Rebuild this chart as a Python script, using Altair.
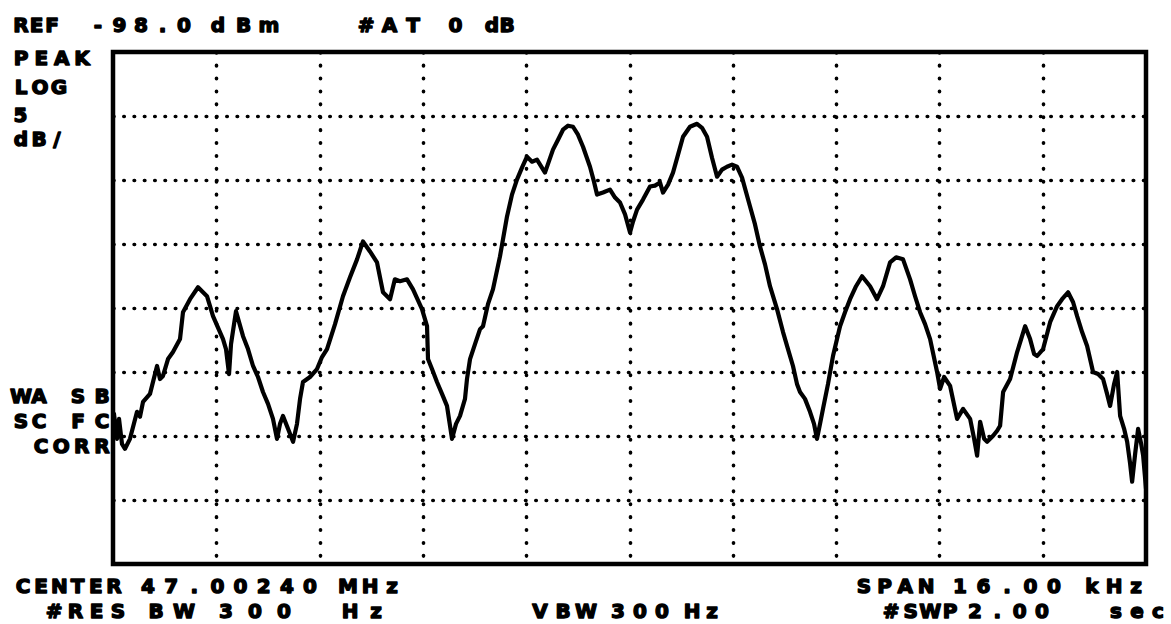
import altair as alt
import pandas as pd

# Swept spectrum trace: frequency offset from centre (kHz) and level (dBm)
freq_khz = [
    -7.985, -7.938, -7.907, -7.861, -7.814, -7.737, -7.628, -7.582, -7.535, -7.427,
    -7.318, -7.272, -7.226, -7.148, -7.071, -6.962, -6.916, -6.807, -6.683, -6.544,
    -6.451, -6.296, -6.250, -6.203, -6.172, -6.095, -5.986, -5.909, -5.831, -5.754,
    -5.677, -5.599, -5.522, -5.460, -5.413, -5.367, -5.289, -5.211, -5.150, -5.103,
    -5.057, -4.949, -4.840, -4.763, -4.685, -4.561, -4.438, -4.329, -4.220, -4.128,
    -4.020, -3.911, -3.818, -3.709, -3.634, -3.555, -3.446, -3.353, -3.214, -3.136,
    -3.121, -3.059, -2.982, -2.904, -2.827, -2.749, -2.687, -2.625, -2.548, -2.517,
    -2.470, -2.393, -2.315, -2.269, -2.192, -2.114, -2.006, -1.897, -1.820, -1.743,
    -1.665, -1.588, -1.510, -1.433, -1.309, -1.185, -1.107, -1.030, -0.952, -0.875,
    -0.798, -0.720, -0.612, -0.550, -0.503, -0.410, -0.302, -0.224, -0.147, -0.069,
    0.008, 0.055, 0.117, 0.209, 0.318, 0.395, 0.473, 0.519, 0.597, 0.674,
    0.752, 0.829, 0.937, 1.046, 1.123, 1.201, 1.278, 1.356, 1.433, 1.510,
    1.588, 1.665, 1.743, 1.867, 1.944, 2.021, 2.099, 2.176, 2.285, 2.378,
    2.455, 2.532, 2.594, 2.641, 2.718, 2.796, 2.858, 2.904, 2.951, 2.997,
    3.075, 3.152, 3.261, 3.338, 3.416, 3.509, 3.602, 3.664, 3.726, 3.834,
    3.927, 4.036, 4.129, 4.237, 4.346, 4.423, 4.501, 4.578, 4.656, 4.764,
    4.811, 4.873, 4.966, 5.074, 5.167, 5.276, 5.338, 5.384, 5.431, 5.493,
    5.539, 5.632, 5.694, 5.740, 5.787, 5.895, 6.004, 6.066, 6.128, 6.205,
    6.267, 6.314, 6.406, 6.515, 6.623, 6.700, 6.793, 6.871, 6.933, 7.010,
    7.088, 7.180, 7.258, 7.335, 7.397, 7.444, 7.506, 7.553, 7.599, 7.661,
    7.708, 7.754, 7.785, 7.832, 7.878, 7.925, 7.956, 8.000,
]
level_dbm = [
    -126.27, -128.22, -126.66, -128.61, -129.00, -128.22, -126.11, -126.50, -125.34, -124.71,
    -122.53, -123.55, -123.31, -121.99, -121.44, -120.43, -118.33, -117.31, -116.38, -117.08,
    -118.64, -120.43, -121.21, -123.16, -120.82, -118.25, -120.20, -121.21, -122.53, -123.39,
    -124.56, -125.49, -126.66, -128.22, -127.05, -126.43, -127.44, -128.45, -127.05, -125.10,
    -123.78, -123.39, -122.77, -121.83, -121.21, -119.26, -117.08, -115.60, -114.20, -112.80,
    -113.58, -114.43, -116.77, -117.31, -115.76, -115.91, -115.76, -116.54, -118.09, -119.42,
    -121.99, -122.77, -123.78, -124.71, -125.65, -128.22, -127.05, -126.43, -125.10, -123.55,
    -121.99, -120.82, -119.65, -119.42, -117.70, -116.53, -113.97, -110.85, -109.14, -107.97,
    -107.03, -106.18, -106.57, -106.41, -107.42, -105.63, -104.85, -104.07, -103.76, -103.84,
    -104.46, -105.40, -106.96, -108.13, -109.14, -108.98, -108.75, -109.37, -109.76, -110.69,
    -112.10, -111.24, -110.31, -109.53, -108.51, -108.44, -108.20, -108.98, -108.36, -107.42,
    -106.02, -104.62, -103.84, -103.61, -103.92, -104.62, -106.26, -107.74, -107.19, -106.96,
    -106.80, -106.96, -107.81, -110.07, -111.47, -113.19, -114.59, -116.30, -118.09, -119.88,
    -121.21, -122.53, -123.93, -124.56, -125.10, -126.11, -127.05, -128.22, -127.05, -125.88,
    -123.93, -121.75, -119.42, -118.33, -117.31, -116.30, -115.52, -115.91, -116.30, -117.31,
    -116.30, -114.43, -114.04, -114.20, -115.76, -117.08, -118.33, -119.26, -120.43, -123.00,
    -124.32, -123.39, -124.09, -126.66, -125.88, -126.66, -128.22, -129.54, -126.89, -128.22,
    -128.45, -127.98, -127.59, -127.20, -124.56, -123.55, -121.44, -120.43, -119.42, -120.43,
    -121.60, -121.75, -121.21, -119.11, -117.86, -117.31, -116.77, -117.55, -118.64, -119.88,
    -120.97, -123.00, -123.16, -123.55, -124.71, -125.65, -123.93, -123.00, -126.43, -127.44,
    -128.45, -130.16, -131.57, -129.39, -127.44, -128.61, -129.54, -132.11,
]

# Display settings: span 16 kHz (10 divisions), reference -98 dBm at 5 dB/div (8 divisions)
span_khz = 16.0
ref_level = -98.0
db_per_div = 5.0
x_divs, y_divs = 10, 8
x_min, x_max = -span_khz / 2, span_khz / 2
y_max, y_min = ref_level, ref_level - db_per_div * y_divs
x_grid = [x_min + i * span_khz / x_divs for i in range(1, x_divs)]
y_grid = [y_min + i * db_per_div for i in range(1, y_divs)]

# Annotation words printed by the analyser
words = [
    "REF", "-98.0", "dBm", "#AT", "0", "dB",
    "PEAK", "LOG", "5", "dB/",
    "WA", "SB", "SC", "FC", "CORR",
    "CENTER", "47.00240", "MHz", "SPAN", "16.00", "kHz",
    "#RES", "BW", "300", "Hz", "VBW", "300", "Hz", "#SWP", "2.00", "sec",
]
# Page layout of each word: left edge, right edge, vertical centre (pixels)
word_boxes = [
    (13, 60, 26), (90, 192, 26), (210, 277, 26), (358, 421, 26), (448, 463, 26), (484, 515, 26),
    (13, 90, 59), (13, 67, 88), (13, 28, 116), (13, 65, 140),
    (13, 47, 397), (70, 110, 397), (13, 47, 422), (70, 110, 422), (33, 110, 447),
    (15, 122, 587), (140, 318, 587), (340, 400, 587), (856, 934, 587), (952, 1062, 587), (1084, 1144, 587),
    (46, 126, 612), (148, 192, 612), (218, 292, 612), (342, 384, 612),
    (532, 594, 612), (610, 670, 612), (684, 720, 612), (883, 958, 612), (967, 1050, 612), (1108, 1166, 612),
]

W, H = 1171, 624
PLOT_L, PLOT_T, PLOT_W, PLOT_H = 113, 52, 1033, 512
GLYPH_W = 16

trace = pd.DataFrame({"freq": freq_khz, "level": level_dbm})

# Lay out the fixed-pitch characters, one text mark per glyph
rows = []
for word, (x0, x1, yc) in zip(words, word_boxes):
    n = len(word)
    for i, ch in enumerate(word):
        if n == 1:
            cx = (x0 + x1) / 2
        else:
            cx = x0 + GLYPH_W / 2 + i * (x1 - x0 - GLYPH_W) / (n - 1)
        rows.append({"ch": ch, "px": cx - PLOT_L, "py": yc - PLOT_T})
chars = pd.DataFrame(rows)

x_enc = alt.X(
    "freq:Q",
    scale=alt.Scale(domain=[x_min, x_max], nice=False, zero=False),
    axis=alt.Axis(values=x_grid, labels=False, ticks=False, domain=False, title=None,
                  grid=True, gridColor="black", gridWidth=3.6, gridCap="round",
                  gridDash=[0.5, 12.4], gridOpacity=1),
)
y_enc = alt.Y(
    "level:Q",
    scale=alt.Scale(domain=[y_min, y_max], nice=False, zero=False),
    axis=alt.Axis(values=y_grid, labels=False, ticks=False, domain=False, title=None,
                  grid=True, gridColor="black", gridWidth=3.6, gridCap="round",
                  gridDash=[0.5, 9.8], gridOpacity=1),
)

line = alt.Chart(trace).mark_line(
    color="black", strokeWidth=4.2, strokeJoin="round", strokeCap="round", clip=True
).encode(x=x_enc, y=y_enc)

text = alt.Chart(chars).mark_text(
    font="DejaVu Sans", fontWeight="bold", fontSize=20, color="black",
    stroke="black", strokeWidth=1.4, strokeJoin="round",
    align="center", baseline="middle",
).encode(
    x=alt.X("px:Q", scale=None),
    y=alt.Y("py:Q", scale=None),
    text="ch:N",
)

chart = alt.layer(line, text).properties(
    width=PLOT_W, height=PLOT_H,
    autosize=alt.AutoSizeParams(type="none"),
    padding={"left": PLOT_L, "top": PLOT_T, "right": W - PLOT_L - PLOT_W, "bottom": H - PLOT_T - PLOT_H},
    background="white",
).configure_view(stroke="black", strokeWidth=4.5)

chart.save("out.html", embed_options={"renderer": "svg", "actions": False})
